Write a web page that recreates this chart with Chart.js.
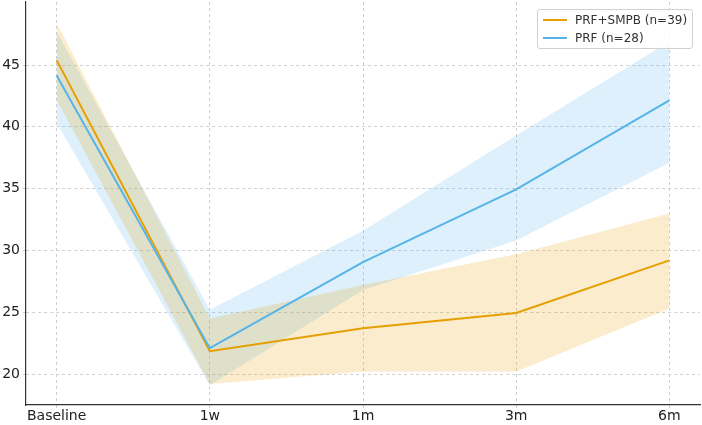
<!DOCTYPE html>
<html>
<head>
  <meta charset="utf-8">
  <title>PRF+SMPB vs PRF</title>
  <script src="https://cdn.jsdelivr.net/npm/chart.js"></script>
  <style>
    body { margin: 0; background: #fff; font-family: "DejaVu Sans", sans-serif; }
    .wrap { position: relative; width: 702px; height: 425px; }
    .legend {
      position: absolute; left: 537px; top: 9px; width: 154px; height: 38px;
      border: 1px solid #d0d0d0; border-radius: 3px; background: rgba(255,255,255,0.85);
      font-size: 12px; color: #333;
    }
    .legend .row { position: absolute; left: 0; height: 14px; line-height: 14px; }
    .legend .swatch { position: absolute; left: 5px; top: 6px; width: 24px; height: 2px; }
    .legend .txt { position: absolute; left: 37px; top: 0; white-space: nowrap; }
  </style>
</head>
<body>
<div class="wrap">
  <canvas id="chart" width="702" height="425"></canvas>
  <div class="legend">
    <div class="row" style="top:3px"><span class="swatch" style="background:#E69F00"></span><span class="txt">PRF+SMPB (n=39)</span></div>
    <div class="row" style="top:21px"><span class="swatch" style="background:#56B4E9"></span><span class="txt">PRF (n=28)</span></div>
  </div>
</div>
<script>
  const labels = ["Baseline", "1w", "1m", "3m", "6m"];

  // PRF+SMPB (n=39)
  const smpbMean  = [45.4, 21.85, 23.7, 24.95, 29.2];
  const smpbUpper = [48.4, 24.5, 27.2, 29.7, 33.0];
  const smpbLower = [42.2, 19.2, 20.2, 20.2, 25.3];

  // PRF (n=28)
  const prfMean  = [44.15, 22.1, 29.05, 34.95, 42.15];
  const prfUpper = [47.7, 25.2, 31.6, 39.3, 46.9];
  const prfLower = [40.3, 19.1, 26.8, 30.8, 37.1];

  const yTicks = [20, 25, 30, 35, 40, 45];

  const pts = arr => arr.map((v, i) => ({ x: i, y: v }));
  const ORANGE = '#E69F00', BLUE = '#56B4E9';
  const band = (data, fill, color) => ({
    data: pts(data), fill, backgroundColor: color, borderWidth: 0, pointRadius: 0, tension: 0, order: 3
  });

  new Chart(document.getElementById('chart'), {
    type: 'line',
    data: {
      datasets: [
        band(smpbUpper, '+1', 'rgba(230,159,0,0.2)'),
        band(smpbLower, false, 'rgba(0,0,0,0)'),
        band(prfUpper, '+1', 'rgba(86,180,233,0.2)'),
        band(prfLower, false, 'rgba(0,0,0,0)'),
        // lower order is drawn later, so blue ends up on top
        { label: 'PRF+SMPB (n=39)', data: pts(smpbMean), borderColor: ORANGE, borderWidth: 2, pointRadius: 0, fill: false, order: 2 },
        { label: 'PRF (n=28)', data: pts(prfMean), borderColor: BLUE, borderWidth: 2, pointRadius: 0, fill: false, order: 1 }
      ]
    },
    options: {
      responsive: false,
      animation: false,
      layout: { padding: { top: 2, right: 2, left: 0, bottom: 0 } },
      plugins: {
        legend: { display: false },
        tooltip: { enabled: false },
        filler: { drawTime: 'beforeDatasetsDraw' }
      },
      scales: {
        x: {
          type: 'linear', min: -0.2, max: 4.2,
          afterBuildTicks: axis => { axis.ticks = labels.map((_, i) => ({ value: i })); },
          afterFit: axis => { axis.height = 20; axis.paddingLeft = 0; axis.paddingRight = 0; },
          ticks: { callback: v => labels[v], color: '#222', font: { family: 'DejaVu Sans', size: 14 }, padding: 0, maxRotation: 0 },
          grid: { color: '#cfcfcf', tickLength: 3, drawOnChartArea: true },
          border: { color: '#333', width: 1.2, dash: [3, 3] }
        },
        y: {
          min: 17.5, max: 50.1,
          afterBuildTicks: axis => { axis.ticks = yTicks.map(v => ({ value: v })); },
          afterFit: axis => { axis.width = 26; axis.paddingTop = 0; axis.paddingBottom = 0; },
          ticks: { color: '#222', font: { family: 'DejaVu Sans', size: 14 }, padding: 3 },
          grid: { color: '#cfcfcf', tickLength: 3 },
          border: { color: '#333', width: 1.2, dash: [3, 3] }
        }
      }
    }
  });
</script>
</body>
</html>
